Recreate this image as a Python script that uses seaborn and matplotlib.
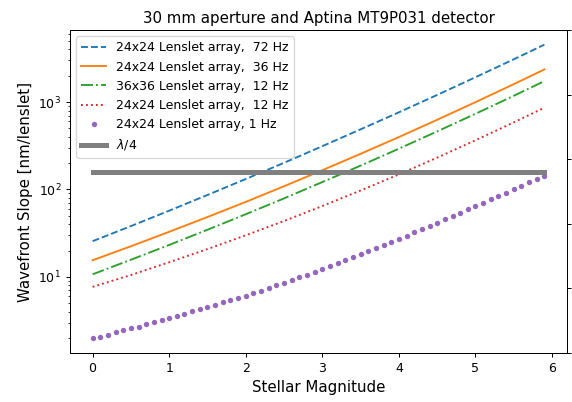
import matplotlib
matplotlib.use("Agg")
import matplotlib.pyplot as plt
import seaborn as sns
import numpy as np

sns.reset_orig()
plt.rcParams['font.family'] = ['DejaVu Sans']

# Data
mag_lines = [0.0, 0.5, 1.0, 1.5, 2.0, 2.5, 3.0, 3.5, 4.0, 4.5, 5.0, 5.5, 5.9]
slope_24_72 = [25.6, 38.1, 57.2, 86.5, 131.8, 202, 313, 488, 764, 1208, 1926, 3090, 4540]
slope_24_36 = [15.5, 22.4, 32.8, 48.4, 72.1, 108.9, 166.3, 256, 398, 628, 998, 1606, 2364]
slope_36_12 = [10.7, 15.7, 23.2, 34.6, 52.1, 79.1, 121.6, 187.5, 293, 462, 735, 1181, 1738]
slope_24_12 = [7.69, 10.5, 14.7, 20.8, 29.9, 43.6, 64.6, 97.4, 148.8, 231.5, 366, 586, 863]

mag_dots = [0.0, 0.1, 0.2, 0.3, 0.4, 0.5, 0.6, 0.7, 0.8, 0.9,
            1.0, 1.1, 1.2, 1.3, 1.4, 1.5, 1.6, 1.7, 1.8, 1.9,
            2.0, 2.1, 2.2, 2.3, 2.4, 2.5, 2.6, 2.7, 2.8, 2.9,
            3.0, 3.1, 3.2, 3.3, 3.4, 3.5, 3.6, 3.7, 3.8, 3.9,
            4.0, 4.1, 4.2, 4.3, 4.4, 4.5, 4.6, 4.7, 4.8, 4.9,
            5.0, 5.1, 5.2, 5.3, 5.4, 5.5, 5.6, 5.7, 5.8, 5.9]
slope_24_1 = [1.98, 2.06, 2.17, 2.32, 2.44, 2.57, 2.68, 2.86, 3.01, 3.17,
              3.37, 3.55, 3.78, 4.02, 4.24, 4.47, 4.79, 5.10, 5.44, 5.75,
              6.06, 6.51, 6.92, 7.43, 7.98, 8.54, 9.17, 9.84, 10.5, 11.4,
              12.2, 13.3, 14.3, 15.5, 16.8, 18.2, 19.7, 21.3, 23.2, 25.1,
              27.3, 29.7, 32.4, 35.1, 38.3, 41.9, 45.6, 49.8, 54.4, 59.4,
              64.8, 70.8, 77.2, 84.3, 92.2, 100.5, 110.8, 120.8, 131.8, 144.2]

lam4_x = [0.0, 5.9]
lam4_y = [158.2, 158.2]

labels = ["24x24 Lenslet array,  72 Hz", "24x24 Lenslet array,  36 Hz",
          "36x36 Lenslet array,  12 Hz", "24x24 Lenslet array,  12 Hz",
          "24x24 Lenslet array, 1 Hz", r"$\lambda/4$"]

DPI = 90
fig = plt.figure(figsize=(572/DPI, 402/DPI), dpi=DPI)
ax = fig.add_axes([70/572, 49/402, 497/572, 323/402])

sns.lineplot(x=mag_lines, y=slope_24_72, ax=ax, color='#1f77b4', linestyle='--', lw=1.5, label=labels[0])
sns.lineplot(x=mag_lines, y=slope_24_36, ax=ax, color='#ff7f0e', linestyle='-', lw=1.5, label=labels[1])
sns.lineplot(x=mag_lines, y=slope_36_12, ax=ax, color='#2ca02c', linestyle='-.', lw=1.5, label=labels[2])
sns.lineplot(x=mag_lines, y=slope_24_12, ax=ax, color='#d62728', linestyle=':', lw=1.5, label=labels[3])
sns.lineplot(x=mag_dots, y=slope_24_1, ax=ax, color='#9467bd', linestyle='none', marker='o',
             markersize=4.3, markeredgewidth=0, label=labels[4])
sns.lineplot(x=lam4_x, y=lam4_y, ax=ax, color='gray', linestyle='-', lw=4, label=labels[5])

ax.set_yscale('log')
ax.set_xlim(-0.295, 6.195)
ax.set_ylim(10**0.129, 10**3.825)
ax.set_xticks([0, 1, 2, 3, 4, 5, 6])
ax.set_xlabel("Stellar Magnitude", fontsize=12)
ax.set_ylabel("Wavefront Slope [nm/lenslet]", fontsize=12)
ax.set_title("30 mm aperture and Aptina MT9P031 detector", fontsize=12)
ax.legend(loc='upper left')

ax2 = ax.twinx()
ax2.set_ylim(0, 1)
ax2.set_yticks([0, 0.2, 0.4, 0.6, 0.8, 1.0])
ax2.tick_params(axis='y', labelright=False, direction='out', length=3.5)

fig.savefig("out.png", dpi=DPI)
